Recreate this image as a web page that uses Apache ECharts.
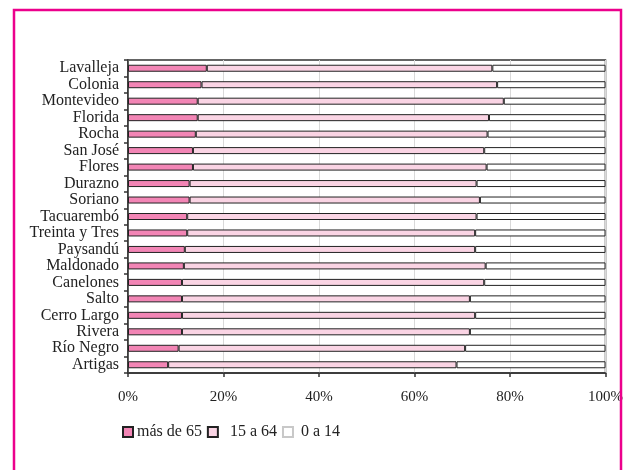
<!DOCTYPE html>
<html><head><meta charset="utf-8">
<script src="https://cdn.jsdelivr.net/npm/echarts@6/dist/echarts.min.js"></script>
<style>html,body{margin:0;padding:0;background:#fff}#c{width:626px;height:470px}</style>
</head><body><div id="c"></div>
<script>
const departamentos = ['Lavalleja','Colonia','Montevideo','Florida','Rocha','San José','Flores','Durazno','Soriano','Tacuarembó','Treinta y Tres','Paysandú','Maldonado','Canelones','Salto','Cerro Largo','Rivera','Río Negro','Artigas'];
const masDe65 = [16.5,15.4,14.6,14.6,14.2,13.6,13.6,12.9,12.9,12.4,12.4,11.9,11.7,11.3,11.3,11.3,11.3,10.6,8.4];
const de15a64 = [59.8,61.9,64.1,61.0,61.1,61.0,61.5,60.1,60.8,60.6,60.3,60.8,63.2,63.3,60.3,61.4,60.3,60.0,60.4];
const de0a14 = [23.7,22.7,21.3,24.4,24.7,25.4,24.9,27.0,26.3,27.0,27.3,27.3,25.1,25.4,28.4,27.3,28.4,29.4,31.2];
const xTicks = ['0%','20%','40%','60%','80%','100%'];
const seriesNames = ['más de 65','15 a 64','0 a 14'];

const font = 'Liberation Serif';
const chart = echarts.init(document.getElementById('c'), null, {renderer:'canvas'});
const mk = (name, data, color) => ({
  name, type:'bar', stack:'t', data, barWidth:7,
  itemStyle:{color, borderColor:'#222', borderWidth:1},
  emphasis:{disabled:true}, animation:false
});
chart.setOption({
  animation:false,
  graphic:[{type:'rect', shape:{x:14, y:10, width:607, height:480}, style:{fill:'none', stroke:'#EC008C', lineWidth:2.5}, z:100}],
  grid:{left:128, right:16, top:60, bottom:97, show:true, borderColor:'#333', borderWidth:1.5, backgroundColor:'transparent'},
  legend:{left:117, top:419, itemWidth:10, itemHeight:10, itemGap:5, icon:'rect',
    textStyle:{fontFamily:font, fontSize:16, color:'#222', padding:[0,0,0,-1]},
    data:[{name:'más de 65'},
          {name:'15 a 64', textStyle:{padding:[0,0,0,7]}},
          {name:'0 a 14', itemStyle:{borderColor:'#c8c8c8'}, textStyle:{padding:[0,0,0,3]}}]},
  xAxis:{type:'value', min:0, max:100, interval:20,
    axisLabel:{formatter:(v)=>xTicks[v/20], fontFamily:font, fontSize:15, color:'#222', margin:17},
    axisLine:{show:true, lineStyle:{color:'#333', width:1.5}},
    axisTick:{show:true, length:4, lineStyle:{color:'#333', width:1.5}},
    splitLine:{show:true, lineStyle:{color:'#d9d9d9', width:1}}},
  yAxis:{type:'category', data:departamentos, inverse:true,
    axisLabel:{interval:0, fontFamily:font, fontSize:16, color:'#222', margin:9},
    axisLine:{show:true, lineStyle:{color:'#333', width:1.5}},
    axisTick:{show:true, interval:0, length:4, lineStyle:{color:'#333', width:1.5}}},
  series:[mk(seriesNames[0], masDe65, '#F285B5'), mk(seriesNames[1], de15a64, '#FAD4E4'), mk(seriesNames[2], de0a14, '#FFFFFF')]
});
</script></body></html>
